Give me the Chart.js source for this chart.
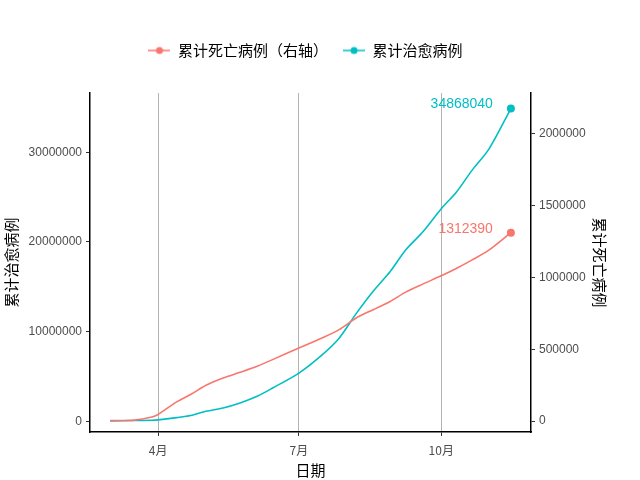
<!DOCTYPE html>
<html>
<head>
<meta charset="utf-8">
<script src="https://cdn.jsdelivr.net/npm/chart.js@4/dist/chart.umd.min.js"></script>
<style>
  html, body { margin: 0; padding: 0; background: #fff; }
</style>
</head>
<body>
<canvas id="chart" width="640" height="480"></canvas>
<script>
// data
const dates = ["2020-03-01", "2020-03-17", "2020-03-28", "2020-04-01", "2020-04-13", "2020-04-22",
  "2020-05-02", "2020-05-13", "2020-05-24", "2020-06-04", "2020-06-14", "2020-07-01",
  "2020-07-16", "2020-07-27", "2020-08-07", "2020-08-18", "2020-08-29", "2020-09-08",
  "2020-09-19", "2020-10-01", "2020-10-11", "2020-10-21", "2020-11-01", "2020-11-15"];
const deaths = [3000, 7000, 28000, 46000, 134000, 185000,
  250000, 300000, 340000, 382000, 428000, 509000,
  579000, 637000, 718000, 776000, 833000, 898000,
  954000, 1012000, 1065000, 1123000, 1192000, 1312390];
const cured = [45000, 80000, 110000, 150000, 400000, 630000,
  1110000, 1480000, 2040000, 2780000, 3700000, 5370000,
  7400000, 9260000, 12000000, 14500000, 16700000, 19100000,
  21100000, 23700000, 25600000, 28000000, 30400000, 34868040];
const xTickDates = ["2020-04-01", "2020-07-01", "2020-10-01"];
const xTickLabels = ["4月", "7月", "10月"];
const leftTicks = [0, 10000000, 20000000, 30000000];
const rightTicks = [0, 500000, 1000000, 1500000, 2000000];

const RED = "#F8766D";
const CYAN = "#00BFC4";
const CJK = "'Noto Sans CJK SC', 'Liberation Sans', sans-serif";

function day(s) {
  return (Date.parse(s) - Date.parse("2020-03-01")) / 86400000;
}
const xTickDays = xTickDates.map(day);
const last = dates.length - 1;

function keyIcon(color) {
  const c = document.createElement("canvas");
  c.width = 22; c.height = 12;
  const g = c.getContext("2d");
  g.strokeStyle = color; g.lineWidth = 1.5;
  g.beginPath(); g.moveTo(0, 6); g.lineTo(22, 6); g.stroke();
  g.fillStyle = color;
  g.beginPath(); g.arc(11, 6, 3.5, 0, Math.PI * 2); g.fill();
  return c;
}

// extra room under the legend, like the ggplot original
const legendGap = {
  id: "legendGap",
  beforeInit(chart) {
    const fit = chart.legend.fit;
    chart.legend.fit = function () {
      fit.bind(chart.legend)();
      this.height += 25;
    };
  }
};

const endLabels = {
  id: "endLabels",
  afterDatasetsDraw(chart) {
    const ctx = chart.ctx;
    ctx.save();
    ctx.font = "14px 'Liberation Sans', sans-serif";
    ctx.textAlign = "right";
    ctx.textBaseline = "middle";
    chart.data.datasets.forEach((ds, i) => {
      const pt = chart.getDatasetMeta(i).data[last];
      ctx.fillStyle = ds.borderColor;
      ctx.fillText(String(ds.data[last].y), pt.x - 18, pt.y - 4);
    });
    ctx.restore();
  }
};

function axisCommon(ticks) {
  return {
    afterBuildTicks: (s) => { s.ticks = ticks.map(v => ({ value: v })); },
    border: { color: "#000", width: 1.5 },
    grid: { drawOnChartArea: false, tickColor: "#333", tickLength: 4 },
    ticks: {
      color: "#4d4d4d",
      font: { size: 12, family: "'Liberation Sans', sans-serif" },
      padding: 4,
      callback: (v) => String(v)
    }
  };
}

new Chart(document.getElementById("chart"), {
  type: "line",
  data: {
    datasets: [
      {
        label: "累计死亡病例（右轴）",
        data: dates.map((d, i) => ({ x: day(d), y: deaths[i] })),
        borderColor: RED,
        backgroundColor: RED,
        borderWidth: 1.6,
        yAxisID: "y1",
        pointRadius: (c) => c.dataIndex === last ? 3.2 : 0,
        pointHoverRadius: 0,
        tension: 0.3
      },
      {
        label: "累计治愈病例",
        data: dates.map((d, i) => ({ x: day(d), y: cured[i] })),
        borderColor: CYAN,
        backgroundColor: CYAN,
        borderWidth: 1.6,
        yAxisID: "y",
        pointRadius: (c) => c.dataIndex === last ? 3.2 : 0,
        pointHoverRadius: 0,
        tension: 0.3
      }
    ]
  },
  options: {
    responsive: false,
    animation: false,
    layout: { padding: { top: 28, right: 29, left: 0, bottom: 0 } },
    plugins: {
      tooltip: { enabled: false },
      legend: {
        position: "top",
        labels: {
          color: "#000",
          font: { size: 15, family: CJK },
          usePointStyle: true,
          pointStyleWidth: 22,
          padding: 15,
          generateLabels(chart) {
            const items = Chart.defaults.plugins.legend.labels.generateLabels(chart);
            items.forEach(it => { it.pointStyle = keyIcon(chart.data.datasets[it.datasetIndex].borderColor); });
            return items;
          }
        }
      }
    },
    scales: {
      x: {
        type: "linear",
        min: day("2020-02-17"),
        max: day("2020-11-28"),
        afterBuildTicks: (s) => { s.ticks = xTickDays.map(v => ({ value: v })); },
        afterFit: (s) => { s.height = 48; },
        border: { color: "#000", width: 1.5 },
        grid: { color: "#b3b3b3", lineWidth: 1, tickColor: "#333", tickLength: 4 },
        ticks: {
          color: "#4d4d4d",
          font: { size: 12, family: CJK },
          padding: 7,
          callback: (v) => xTickLabels[xTickDays.indexOf(v)]
        },
        title: { display: true, text: "日期", color: "#000", font: { size: 15, family: CJK }, padding: { top: 1, bottom: 1 } }
      },
      y: Object.assign(axisCommon(leftTicks), {
        position: "left",
        min: -1200000,
        max: 36600000,
        afterFit: (s) => { s.width = 90; },
        title: { display: true, text: "累计治愈病例", color: "#000", font: { size: 15, family: CJK }, padding: 2 }
      }),
      y1: Object.assign(axisCommon(rightTicks), {
        position: "right",
        min: -76000,
        max: 2285000,
        afterFit: (s) => { s.width = 80; },
        title: { display: true, text: "累计死亡病例", color: "#000", font: { size: 15, family: CJK }, padding: 2 }
      })
    }
  },
  plugins: [legendGap, endLabels]
});
</script>
</body>
</html>
